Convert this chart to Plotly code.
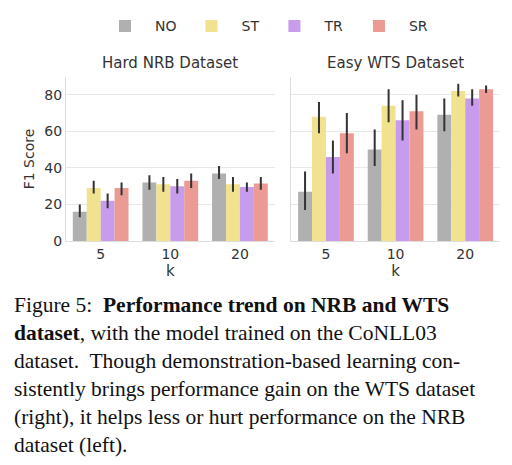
import plotly.graph_objects as go

ks = ["5", "10", "20"]
methods = ["NO", "ST", "TR", "SR"]
colors = ["#b0b0b0", "#f0e28e", "#c89cec", "#eb9a94"]

# mean, low, high per method for k = 5, 10, 20
hard_mean = {"NO": [16, 32, 37], "ST": [29, 31, 31], "TR": [22, 30, 29.5], "SR": [29, 33, 31.5]}
hard_low = {"NO": [13, 28, 34], "ST": [26, 27, 27], "TR": [18, 26, 27], "SR": [25, 29, 28]}
hard_high = {"NO": [20, 36, 41], "ST": [33, 35, 35], "TR": [26, 34, 32], "SR": [32, 37, 35]}
easy_mean = {"NO": [27, 50, 69], "ST": [68, 74, 82], "TR": [46, 66, 78], "SR": [59, 71, 83]}
easy_low = {"NO": [17, 41, 60], "ST": [59, 65, 79], "TR": [37, 55, 74], "SR": [48, 61, 81]}
easy_high = {"NO": [38, 61, 78], "ST": [76, 83, 86], "TR": [55, 77, 83], "SR": [70, 80, 85]}

fig = go.Figure()
for i, m in enumerate(methods):
    for ax, mean, low, high in [("", hard_mean, hard_low, hard_high), ("2", easy_mean, easy_low, easy_high)]:
        fig.add_trace(go.Bar(
            x=ks, y=mean[m], name=m, marker_color=colors[i], marker_line_width=0,
            xaxis="x" + ax, yaxis="y" + ax, showlegend=(ax == ""),
            error_y=dict(type="data", symmetric=False,
                         array=[h - v for h, v in zip(high[m], mean[m])],
                         arrayminus=[v - l for v, l in zip(mean[m], low[m])],
                         color="#333333", thickness=2, width=0),
        ))

axis_common = dict(showgrid=False, showline=True, linecolor="#dddddd", ticks="",
                   tickfont=dict(size=14, color="#333"), title_font=dict(size=15, color="#333"),
                   title_standoff=2)
yax = dict(range=[0, 89.7], tickvals=[0, 20, 40, 60, 80], showgrid=True, gridcolor="#e8e8e8",
           showline=True, linecolor="#dddddd", zeroline=False, tickfont=dict(size=14, color="#333"))

fig.update_layout(
    width=512, height=465, margin=dict(l=0, r=0, t=0, b=0),
    paper_bgcolor="white", plot_bgcolor="white",
    font=dict(family="DejaVu Sans", color="#333"),
    barmode="group", bargap=0.2, bargroupgap=0,
    xaxis=dict(domain=[0.113, 0.521], anchor="y", title_text="k", **axis_common),
    xaxis2=dict(domain=[0.553, 0.961], anchor="y2", title_text="k", **axis_common),
    yaxis=dict(domain=[0.49, 0.849], anchor="x", title=dict(text="F1 Score", font=dict(size=14), standoff=6), **yax),
    yaxis2=dict(domain=[0.49, 0.849], anchor="x2", showticklabels=False, **yax),
    legend=dict(orientation="h", x=0.5, xanchor="center", y=0.995, yanchor="top",
                font=dict(size=14), itemwidth=50, traceorder="normal"),
    annotations=[
        dict(text="Hard NRB Dataset", x=0.317, y=0.855, xref="paper", yref="paper",
             xanchor="center", yanchor="bottom", showarrow=False, font=dict(size=15, color="#333")),
        dict(text="Easy WTS Dataset", x=0.757, y=0.855, xref="paper", yref="paper",
             xanchor="center", yanchor="bottom", showarrow=False, font=dict(size=15, color="#333")),
        dict(text="Figure 5:  <b>Performance trend on NRB and WTS</b><br>"
                  "<b>dataset</b>, with the model trained on the CoNLL03<br>"
                  "dataset.  Though demonstration-based learning con-<br>"
                  "sistently brings performance gain on the WTS dataset<br>"
                  "(right), it helps less or hurt performance on the NRB<br>"
                  "dataset (left).",
             x=0.008, y=0.38, xref="paper", yref="paper", xanchor="left", yanchor="top",
             align="left", showarrow=False,
             font=dict(family="Liberation Serif", size=21.5, color="#111")),
    ],
)

fig.write_html("out.html")
